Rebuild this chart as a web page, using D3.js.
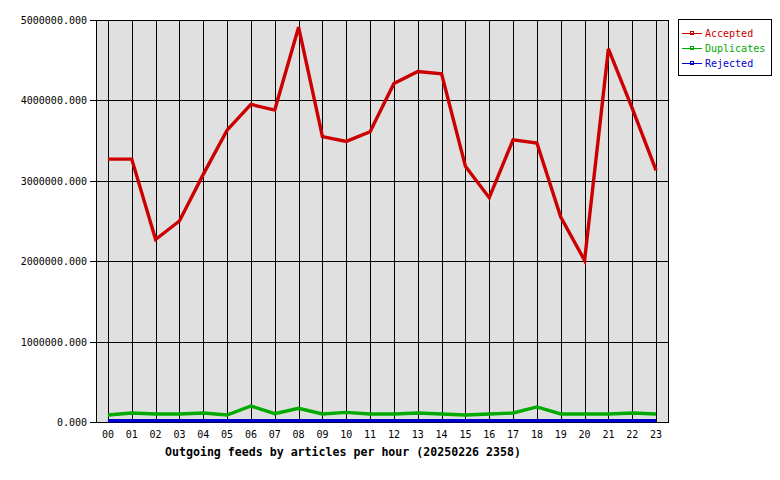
<!DOCTYPE html>
<html><head><meta charset="utf-8">
<script src="https://cdn.jsdelivr.net/npm/d3@7"></script>
<style>body{margin:0;background:#fff}svg{display:block}</style>
</head><body>
<script>
const hours = ["00","01","02","03","04","05","06","07","08","09","10","11","12","13","14","15","16","17","18","19","20","21","22","23"];
const accepted = [3270000,3270000,2270000,2500000,3080000,3630000,3950000,3880000,4910000,3550000,3490000,3610000,4210000,4360000,4330000,3180000,2790000,3510000,3470000,2550000,2010000,4640000,3900000,3130000];
const duplicates = [87000,112000,100000,100000,112000,87000,199000,103000,170000,100000,120000,100000,100000,112000,100000,87000,100000,112000,187000,100000,100000,100000,112000,100000];
const rejected = [15000,15000,15000,15000,15000,15000,15000,15000,15000,15000,15000,15000,15000,15000,15000,15000,15000,15000,15000,15000,15000,15000,15000,15000];
const yTicks = [0,1000000,2000000,3000000,4000000,5000000];
const seriesNames = ["Accepted","Duplicates","Rejected"];
const colors = ["#cc0000","#00aa00","#0000cc"];
const title = "Outgoing feeds by articles per hour (20250226 2358)";

const W=780,H=480, L=96, R=668, T=20, B=422;
const svg=d3.select("body").append("svg").attr("width",W).attr("height",H)
  .style("font-family","'DejaVu Sans Mono', monospace");
const x=d3.scalePoint().domain(hours).range([L,R]).padding(0.5);
const y=d3.scaleLinear().domain([0,5000000]).range([B,T]);

svg.append("rect").attr("x",L).attr("y",T).attr("width",R-L).attr("height",B-T).attr("fill","#e0e0e0");
// vertical grid
svg.append("g").selectAll("line").data(hours).join("line")
  .attr("x1",d=>Math.round(x(d))+0.5).attr("x2",d=>Math.round(x(d))+0.5).attr("y1",T).attr("y2",B)
  .attr("stroke","#000").attr("shape-rendering","crispEdges");
// horizontal grid + ticks
svg.append("g").selectAll("line").data(yTicks).join("line")
  .attr("x1",L-6).attr("x2",R).attr("y1",d=>Math.round(y(d))+0.5).attr("y2",d=>Math.round(y(d))+0.5)
  .attr("stroke","#000").attr("shape-rendering","crispEdges");
svg.append("rect").attr("x",L+0.5).attr("y",T+0.5).attr("width",R-L).attr("height",B-T)
  .attr("fill","none").attr("stroke","#000").attr("shape-rendering","crispEdges");
// y labels
svg.append("g").selectAll("text").data(yTicks).join("text")
  .attr("x",L-9).attr("y",d=>y(d)+4).attr("text-anchor","end").attr("font-size","10px")
  .text(d=>d3.format(".3f")(d));
// x labels
svg.append("g").selectAll("text").data(hours).join("text")
  .attr("x",d=>x(d)).attr("y",B+16).attr("text-anchor","middle").attr("font-size","10px").text(d=>d);
svg.append("text").attr("x",(165+521)/2).attr("y",B+34).attr("text-anchor","middle")
  .attr("font-size","11.6px").attr("font-weight","bold").text(title);

const line=d3.line().x((d,i)=>x(hours[i])).y(d=>y(d));
[rejected,duplicates,accepted].forEach((s,k)=>{
  const c=colors[2-k];
  svg.append("path").attr("d",line(s)).attr("fill","none").attr("stroke",c).attr("stroke-width",3.4);
});

// legend
const lg=svg.append("g");
lg.append("rect").attr("x",678.5).attr("y",19.5).attr("width",93).attr("height",56).attr("fill","#fff").attr("stroke","#000").attr("shape-rendering","crispEdges");
seriesNames.forEach((n,i)=>{
  const yy=33+i*15;
  lg.append("line").attr("x1",682).attr("x2",702).attr("y1",yy+0.5).attr("y2",yy+0.5).attr("stroke",colors[i]).attr("shape-rendering","crispEdges");
  lg.append("rect").attr("x",690.5).attr("y",yy-1.5).attr("width",3).attr("height",3).attr("fill","none").attr("stroke",colors[i]).attr("shape-rendering","crispEdges");
  lg.append("text").attr("x",705).attr("y",yy+4).attr("font-size","10px").attr("fill",colors[i]).text(n);
});
</script>
</body></html>
